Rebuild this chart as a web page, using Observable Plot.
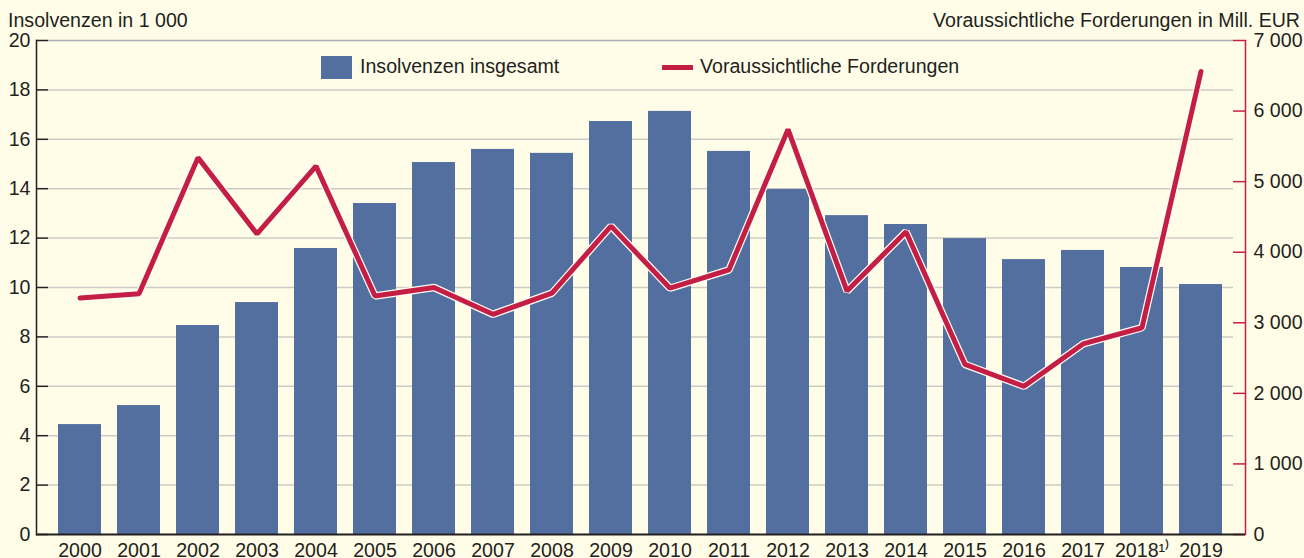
<!DOCTYPE html>
<html>
<head>
<meta charset="utf-8">
<script src="https://cdn.jsdelivr.net/npm/d3@7"></script>
<script src="https://cdn.jsdelivr.net/npm/@observablehq/plot@0.6"></script>
<style>
  html, body { margin: 0; padding: 0; background: #fffde8; }
  #wrap { position: relative; width: 1304px; height: 558px; font-family: "Liberation Sans", Arial, sans-serif; color: #231f20; }
  .lbl { position: absolute; font-size: 19.6px; line-height: 19.6px; white-space: nowrap; }
  .sw { position: absolute; }
</style>
</head>
<body>
<div id="wrap">
  <div id="chart"></div>
  <div class="lbl" style="left:8px; top:10.5px;">Insolvenzen in 1 000</div>
  <div class="lbl" style="right:4px; top:10.5px;">Voraussichtliche Forderungen in Mill. EUR</div>
  <div class="sw" style="left:321px; top:56px; width:31px; height:23px; background:#536fa0;"></div>
  <div class="lbl" style="left:360px; top:57px;">Insolvenzen insgesamt</div>
  <div class="sw" style="left:662px; top:65px; width:31px; height:5px; background:#c41e45;"></div>
  <div class="lbl" style="left:700px; top:57px;">Voraussichtliche Forderungen</div>
</div>
<script>
const years = ["2000","2001","2002","2003","2004","2005","2006","2007","2008","2009",
               "2010","2011","2012","2013","2014","2015","2016","2017","2018","2019"];
const yearLabels = ["2000","2001","2002","2003","2004","2005","2006","2007","2008","2009",
               "2010","2011","2012","2013","2014","2015","2016","2017","2018\u00B9\u207E","2019"];
const insolvenzen = [4.45,5.22,8.46,9.39,11.58,13.40,15.06,15.59,15.43,16.72,
                     17.13,15.51,13.97,12.91,12.55,11.98,11.13,11.50,10.81,10.12];
const forderungen = [3350,3410,5340,4260,5220,3380,3500,3120,3420,4370,
                     3490,3750,5740,3450,4290,2410,2100,2700,2930,6560];
const leftTicks = [0,2,4,6,8,10,12,14,16,18,20];
const rightTicks = [0,1000,2000,3000,4000,5000,6000,7000];
const rightMax = 7000, leftMax = 20;
const ratio = rightMax / leftMax;

const data = years.map((y, i) => ({year: y, ins: insolvenzen[i], ford: forderungen[i]}));
const fmt = v => String(v).replace(/\B(?=(\d{3})+(?!\d))/g, " ");
const labelOf = Object.fromEntries(years.map((y, i) => [y, yearLabels[i]]));

const BLUE = "#536fa0", RED = "#c41e45", INK = "#231f20";

const chart = Plot.plot({
  width: 1304, height: 558,
  marginTop: 40, marginBottom: 24, marginLeft: 36, marginRight: 59,
  style: {background: "#fffde8", fontFamily: "'Liberation Sans', Arial, sans-serif", fontSize: "19.6px", color: INK},
  x: {type: "band", domain: years, paddingInner: 0.27, paddingOuter: 0.38, label: null},
  y: {domain: [0, leftMax], label: null},
  marks: [
    Plot.ruleY(leftTicks.filter(d => d > 0 && d < leftMax), {stroke: "#cdcbc4", strokeWidth: 1.5, insetLeft: 12, insetRight: 12}),
    Plot.ruleY([leftMax], {stroke: "#a7acb6", strokeWidth: 1.5, insetLeft: 12, insetRight: 12}),
    Plot.barY(data, {x: "year", y: "ins", fill: BLUE}),
    Plot.line(data, {x: "year", y: d => d.ford / ratio, stroke: "#fffef5", strokeWidth: 7.5, strokeLinejoin: "miter", strokeLinecap: "round"}),
    Plot.line(data, {x: "year", y: d => d.ford / ratio, stroke: RED, strokeWidth: 5, strokeLinejoin: "miter", strokeLinecap: "round"}),
    Plot.ruleY(leftTicks, {stroke: INK, strokeWidth: 1.5, insetRight: 1197}),
    Plot.ruleY(rightTicks.map(v => v / ratio), {stroke: RED, strokeWidth: 1.5, insetLeft: 1197}),
    Plot.frame({anchor: "left", stroke: INK, strokeWidth: 1.5}),
    Plot.frame({anchor: "right", stroke: RED, strokeWidth: 1.5}),
    Plot.ruleY([0], {stroke: INK, strokeWidth: 2}),
    Plot.axisY({ticks: leftTicks, tickSize: 0, tickPadding: 6, fill: INK, label: null}),
    Plot.axisY({anchor: "right", ticks: rightTicks.map(v => v / ratio), tickFormat: d => fmt(Math.round(d * ratio)),
                tickSize: 0, tickPadding: 8, fill: INK, label: null}),
    Plot.axisX({tickSize: 0, tickPadding: 8.5, tickFormat: d => labelOf[d], fill: INK, label: null})
  ]
});
document.getElementById("chart").appendChild(chart);
</script>
</body>
</html>
